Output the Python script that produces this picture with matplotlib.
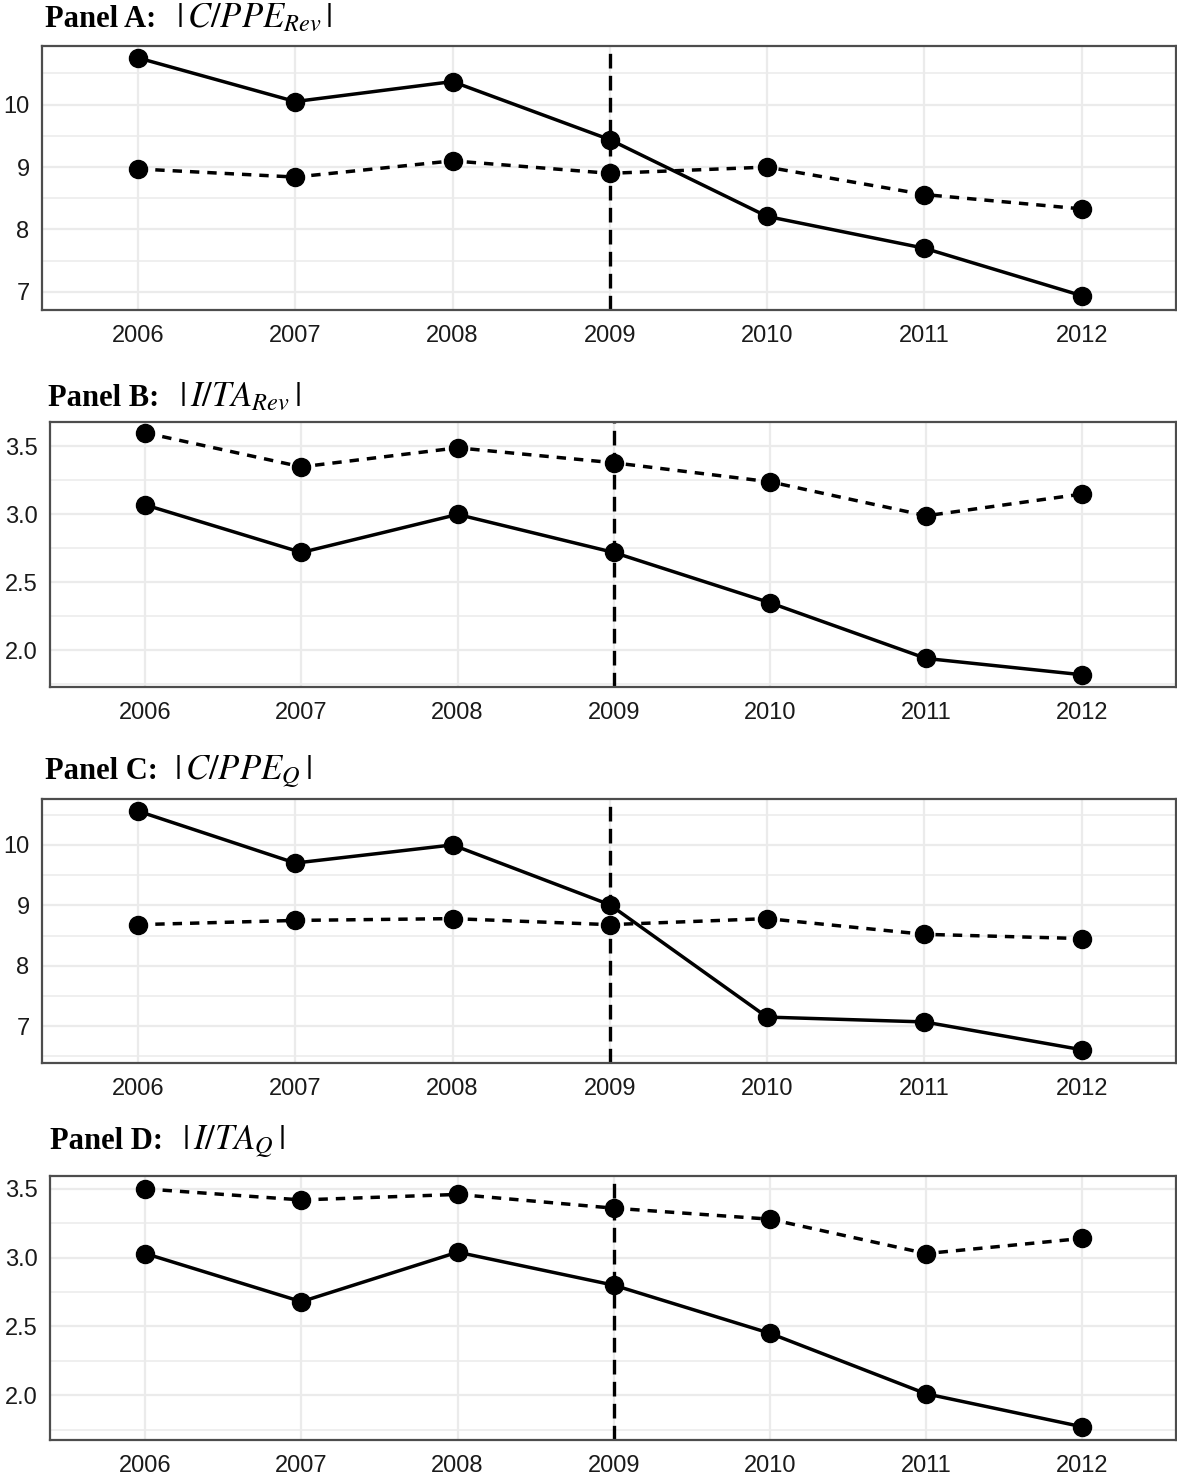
import numpy as np
import matplotlib
matplotlib.use('Agg')
import matplotlib.pyplot as plt

years = [2006, 2007, 2008, 2009, 2010, 2011, 2012]
event_year = 2009

panel_names = ['Panel A:', 'Panel B:', 'Panel C:', 'Panel D:']
panel_vars = [r'$|\,C/PPE_{Rev}\,|$',
              r'$|\,I/TA_{Rev}\,|$',
              r'$|\,C/PPE_{Q}\,|$',
              r'$|\,I/TA_{Q}\,|$']

# solid line series
cppe_rev_solid = [10.75, 10.05, 10.37, 9.44, 8.21, 7.70, 6.94]
ita_rev_solid = [3.07, 2.72, 3.00, 2.72, 2.35, 1.94, 1.82]
cppe_q_solid = [10.56, 9.70, 10.00, 9.01, 7.15, 7.07, 6.61]
ita_q_solid = [3.03, 2.68, 3.04, 2.80, 2.45, 2.01, 1.77]

# dashed line series
cppe_rev_dashed = [8.97, 8.84, 9.10, 8.90, 9.00, 8.56, 8.33]
ita_rev_dashed = [3.60, 3.35, 3.49, 3.38, 3.24, 2.99, 3.15]
cppe_q_dashed = [8.68, 8.75, 8.78, 8.68, 8.78, 8.52, 8.45]
ita_q_dashed = [3.50, 3.42, 3.46, 3.36, 3.28, 3.03, 3.14]

y_ticks_cppe = [7, 8, 9, 10]
y_ticks_ita = [2.0, 2.5, 3.0, 3.5]
y_labels_ita = ['2.0', '2.5', '3.0', '3.5']

W, H = 1177, 1481
plt.rcParams['mathtext.fontset'] = 'stix'

fig = plt.figure(figsize=(W / 100, H / 100), dpi=100)


def px_box(left, top, right, bottom):
    return [left / W, 1 - bottom / H, (right - left) / W, (bottom - top) / H]


def draw_panel(box, idx, title_xy, math_x, solid, dashed, yticks, ylabels, ylim):
    ax = fig.add_axes(px_box(*box))

    # grid like ggplot theme_bw
    ax.set_xticks(years)
    ax.set_yticks(yticks)
    step = yticks[1] - yticks[0]
    minor = [yticks[0] - step / 2] + [t + step / 2 for t in yticks]
    ax.set_yticks(minor, minor=True)
    # limits after ticks, set_yticks would widen them
    ax.set_xlim(2005.39, 2012.6)
    ax.set_ylim(*ylim)
    ax.grid(True, which='major', color='#ebebeb', lw=1.6, zorder=0)
    ax.grid(True, which='minor', axis='y', color='#ebebeb', lw=1.1, zorder=0)
    ax.set_axisbelow(True)

    ax.set_yticklabels(ylabels)
    ax.tick_params(axis='both', which='both', length=0, labelsize=17, labelcolor='#1a1a1a',
                   labelfontfamily='Liberation Sans')
    ax.tick_params(axis='x', pad=10.5)
    ax.tick_params(axis='y', pad=9)

    for s in ax.spines.values():
        s.set_color('#4d4d4d')
        s.set_linewidth(1.6)

    ax.axvline(event_year, color='black', lw=2.4, ls=(0, (4.4, 2.2)), zorder=2)
    ax.plot(years, dashed, color='black', lw=2.5, ls=(0, (2.7, 2.3)),
            marker='o', ms=13, zorder=3)
    ax.plot(years, solid, color='black', lw=2.5, ls='-',
            marker='o', ms=13, zorder=3)

    base_y = 1 - title_xy[1] / H
    fig.text(title_xy[0] / W, base_y, panel_names[idx], fontsize=22,
             family='Liberation Serif', weight='bold', va='baseline', ha='left')
    fig.text(math_x / W, base_y, panel_vars[idx], fontsize=25,
             va='baseline', ha='left')
    return ax


draw_panel((42, 46, 1176, 310), 0, (45, 27), 176, cppe_rev_solid, cppe_rev_dashed,
           y_ticks_cppe, [str(t) for t in y_ticks_cppe], (6.71, 10.94))
draw_panel((50, 422, 1176, 687), 1, (48, 406), 179, ita_rev_solid, ita_rev_dashed,
           y_ticks_ita, y_labels_ita, (1.73, 3.68))
draw_panel((42, 799, 1176, 1063), 2, (45, 779), 174, cppe_q_solid, cppe_q_dashed,
           y_ticks_cppe, [str(t) for t in y_ticks_cppe], (6.39, 10.76))
draw_panel((50, 1176, 1176, 1440), 3, (50, 1149), 182, ita_q_solid, ita_q_dashed,
           y_ticks_ita, y_labels_ita, (1.674, 3.594))

fig.savefig('out.png', dpi=100, facecolor='white')
